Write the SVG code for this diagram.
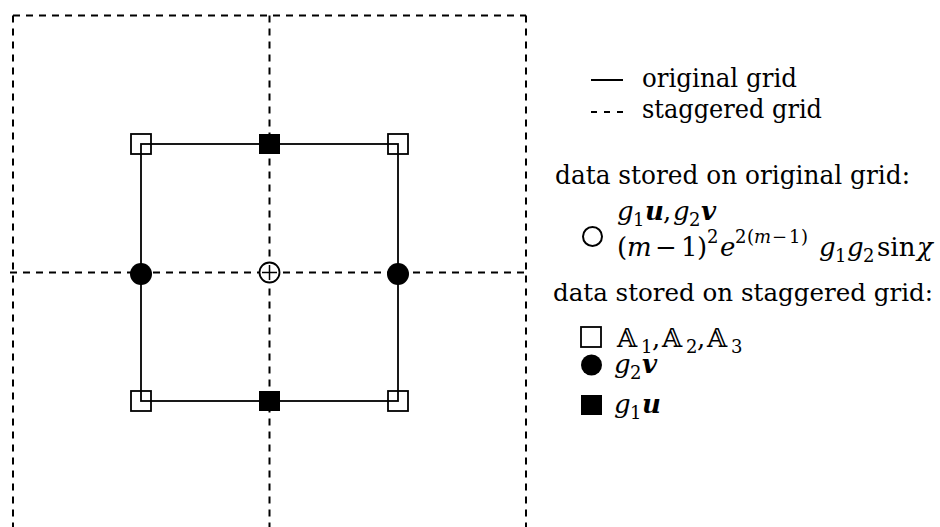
<svg xmlns="http://www.w3.org/2000/svg" width="940" height="527" viewBox="0 0 940 527">
<style>
.dash{fill:none;stroke:#000;stroke-width:2;stroke-dasharray:7 6}
.solid{fill:none;stroke:#000;stroke-width:1.8}
.hsq{fill:none;stroke:#000;stroke-width:1.8}
.fill{fill:#000;stroke:none}
text{font-family:"DejaVu Serif",serif;font-size:26px;fill:#000}
.it{font-style:italic}
.bi{font-style:italic;font-weight:bold}
.s{font-size:18px}
.ds{font-family:"DejaVu Serif","DejaVu Sans",serif;font-size:26px}
</style>
<rect width="940" height="527" fill="#fff"/>
<g id="connectors">
  <g id="staggered-grid">
    <path class="dash" d="M13 15.5H526"/>
    <path class="dash" d="M13 15.5V527"/>
    <path class="dash" d="M269.5 15.5V527"/>
    <path class="dash" d="M526 15.5V527"/>
    <path class="dash" d="M10 272.5H529"/>
  </g>
  <g id="original-grid">
    <rect class="solid" x="141" y="144" width="257" height="257"/>
  </g>
</g>
<g id="node-corner-tl"><rect class="hsq" x="131" y="134" width="20" height="20"/></g>
<g id="node-corner-tr"><rect class="hsq" x="388" y="134" width="20" height="20"/></g>
<g id="node-corner-bl"><rect class="hsq" x="131" y="391" width="20" height="20"/></g>
<g id="node-corner-br"><rect class="hsq" x="388" y="391" width="20" height="20"/></g>
<g id="node-top"><rect class="fill" x="259" y="134" width="21" height="20"/></g>
<g id="node-bottom"><rect class="fill" x="259" y="391" width="21" height="20"/></g>
<g id="node-left"><circle class="fill" cx="141" cy="274" r="11"/></g>
<g id="node-right"><circle class="fill" cx="398" cy="274" r="11"/></g>
<g id="node-center"><circle cx="269.5" cy="272.5" r="10" fill="#fff" stroke="#000" stroke-width="1.8"/><path d="M262 272.5H277M269.5 265V280" stroke="#000" stroke-width="1.5"/></g>

<g id="legend">
  <path d="M591 80H623" stroke="#000" stroke-width="2"/>
  <text x="642" y="87" textLength="155" lengthAdjust="spacingAndGlyphs">original grid</text>
  <path d="M591 112H623" stroke="#000" stroke-width="2" stroke-dasharray="6 7"/>
  <text x="642" y="118" textLength="180" lengthAdjust="spacingAndGlyphs">staggered grid</text>

  <text x="555" y="184" textLength="355" lengthAdjust="spacingAndGlyphs">data stored on original grid:</text>
  <circle cx="592.5" cy="236.5" r="9.5" fill="none" stroke="#000" stroke-width="2"/>
  <text y="220"><tspan class="it" x="617">g</tspan><tspan class="s" x="633" y="226">1</tspan><tspan class="bi" x="645" y="220">u</tspan><tspan x="663">,</tspan><tspan class="it" x="673">g</tspan><tspan class="s" x="689" y="226">2</tspan><tspan class="bi" x="701" y="220">v</tspan></text>
  <text y="256"><tspan x="617">(</tspan><tspan class="it" x="627">m</tspan><tspan x="655">−</tspan><tspan x="681">1</tspan><tspan x="697">)</tspan><tspan class="s" x="707" y="243">2</tspan><tspan class="it" x="720" y="256">e</tspan><tspan class="s" x="735" y="243">2</tspan><tspan class="s" x="747">(</tspan><tspan class="s it" x="754">m</tspan><tspan class="s" x="772">−</tspan><tspan class="s" x="789">1</tspan><tspan class="s" x="801">)</tspan><tspan class="it" x="819" y="256">g</tspan><tspan class="s" x="835" y="262">1</tspan><tspan class="it" x="847" y="256">g</tspan><tspan class="s" x="863" y="262">2</tspan><tspan x="877" y="256">sin</tspan><tspan class="it" x="917">χ</tspan></text>

  <text x="553" y="301" style="font-size:24px" textLength="380" lengthAdjust="spacingAndGlyphs">data stored on staggered grid:</text>
  <rect class="hsq" x="581" y="327" width="20" height="20"/>
  <text y="347"><tspan class="ds" x="617">𝔸</tspan><tspan class="s" x="641" y="353">1</tspan><tspan x="652" y="347">,</tspan><tspan class="ds" x="662">𝔸</tspan><tspan class="s" x="686" y="353">2</tspan><tspan x="697" y="347">,</tspan><tspan class="ds" x="707">𝔸</tspan><tspan class="s" x="731" y="353">3</tspan></text>
  <circle class="fill" cx="591.5" cy="365" r="10.5"/>
  <text y="373"><tspan class="it" x="614">g</tspan><tspan class="s" x="630" y="379">2</tspan><tspan class="bi" x="642" y="373">v</tspan></text>
  <rect class="fill" x="581" y="395" width="21" height="20"/>
  <text y="413"><tspan class="it" x="614">g</tspan><tspan class="s" x="630" y="419">1</tspan><tspan class="bi" x="642" y="413">u</tspan></text>
</g>
</svg>
